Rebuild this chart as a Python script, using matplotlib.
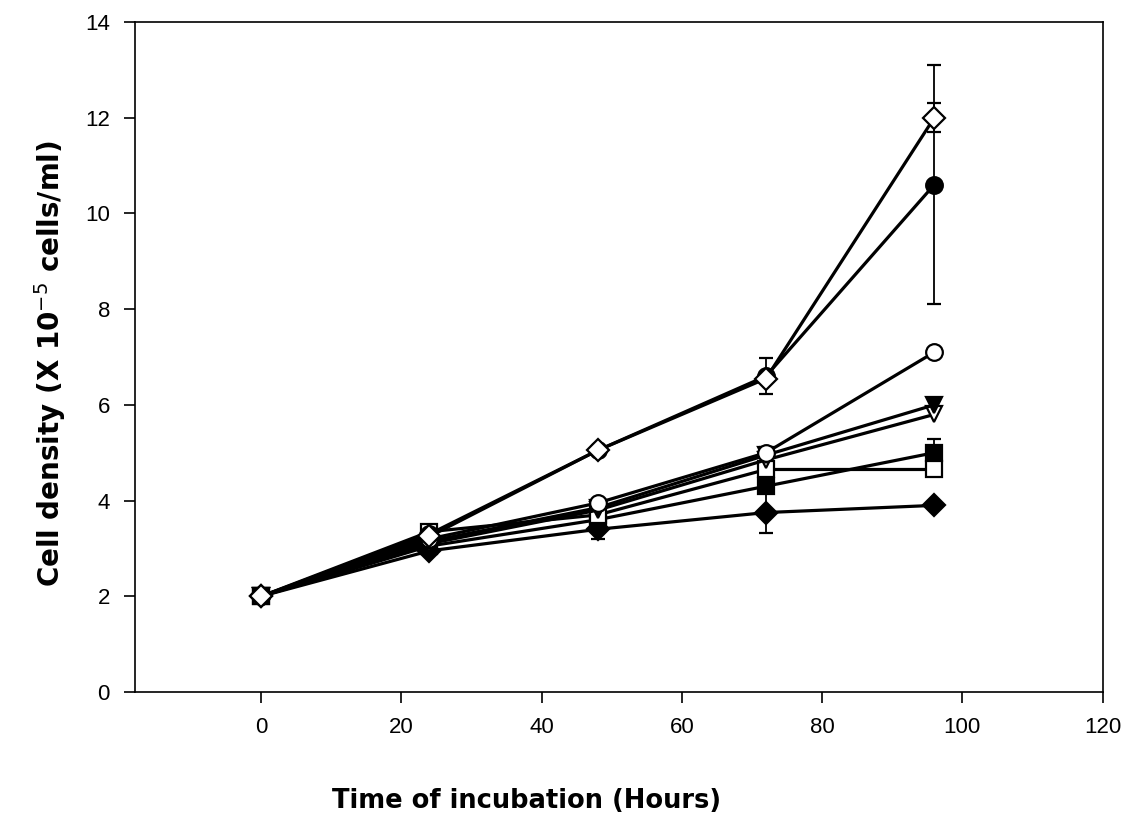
import matplotlib.pyplot as plt
import matplotlib.ticker as ticker
import numpy as np

hours = [0, 24, 48, 72, 96]

# cell density (x 10^-5 cells/ml), one list per treatment
open_diamond = [2.0, 3.25, 5.05, 6.55, 12.0]
filled_circle = [2.0, 3.3, 5.05, 6.6, 10.6]
open_circle = [2.0, 3.2, 3.95, 5.0, 7.1]
filled_tri = [2.0, 3.15, 3.85, 4.95, 6.0]
open_tri = [2.0, 3.1, 3.8, 4.85, 5.8]
filled_square = [2.0, 3.05, 3.6, 4.3, 5.0]
open_square = [2.0, 3.35, 3.7, 4.65, 4.65]
filled_diamond = [2.0, 2.95, 3.4, 3.75, 3.9]

# standard deviations
err_open_diamond = [0, 0, 0, 0, 0.3]
err_filled_circle = [0, 0, 0, 0.38, 2.5]
err_open_circle = [0, 0, 0.08, 0.12, 0]
err_filled_square = [0, 0, 0, 0, 0.28]
err_filled_diamond = [0, 0.05, 0.2, 0.42, 0]

series = [
    (filled_diamond, err_filled_diamond, 'D', 'black'),
    (filled_square, err_filled_square, 's', 'black'),
    (open_square, None, 's', 'white'),
    (open_tri, None, 'v', 'white'),
    (filled_tri, None, 'v', 'black'),
    (open_circle, err_open_circle, 'o', 'white'),
    (filled_circle, err_filled_circle, 'o', 'black'),
    (open_diamond, err_open_diamond, 'D', 'white'),
]

fig = plt.figure(figsize=(11.25, 8.17), dpi=100)
ax = fig.add_axes([0.12, 0.153, 0.86, 0.82])

for y, err, mk, fc in series:
    ms = 11 if mk == 'D' else 12
    ax.errorbar(hours, y, yerr=err, color='black', linewidth=2.3,
                marker=mk, markersize=ms, markerfacecolor=fc,
                markeredgecolor='black', markeredgewidth=1.6,
                elinewidth=1.3, capsize=5, capthick=1.3)

ax.set_xlim(-18, 120)
ax.set_ylim(0, 14)
ax.xaxis.set_major_locator(ticker.MultipleLocator(20))
ax.yaxis.set_major_locator(ticker.MultipleLocator(2))
ax.tick_params(direction='out', length=8, width=1.2, labelsize=16, pad=10)
for lab in ax.get_xticklabels() + ax.get_yticklabels():
    lab.set_family('Liberation Sans')
for sp in ax.spines.values():
    sp.set_linewidth(1.2)

ax.set_xlabel('Time of incubation (Hours)', fontsize=18.5, fontweight='bold',
              family='DejaVu Sans', va='center')
ax.set_ylabel('Cell density (X 10$^{-5}$ cells/ml)', fontsize=20, fontweight='bold',
              family='DejaVu Sans', va='center')
ax.xaxis.set_label_coords(0.405, -0.163)
ax.yaxis.set_label_coords(-0.088, 0.49)

plt.savefig('out.png', dpi=100)
